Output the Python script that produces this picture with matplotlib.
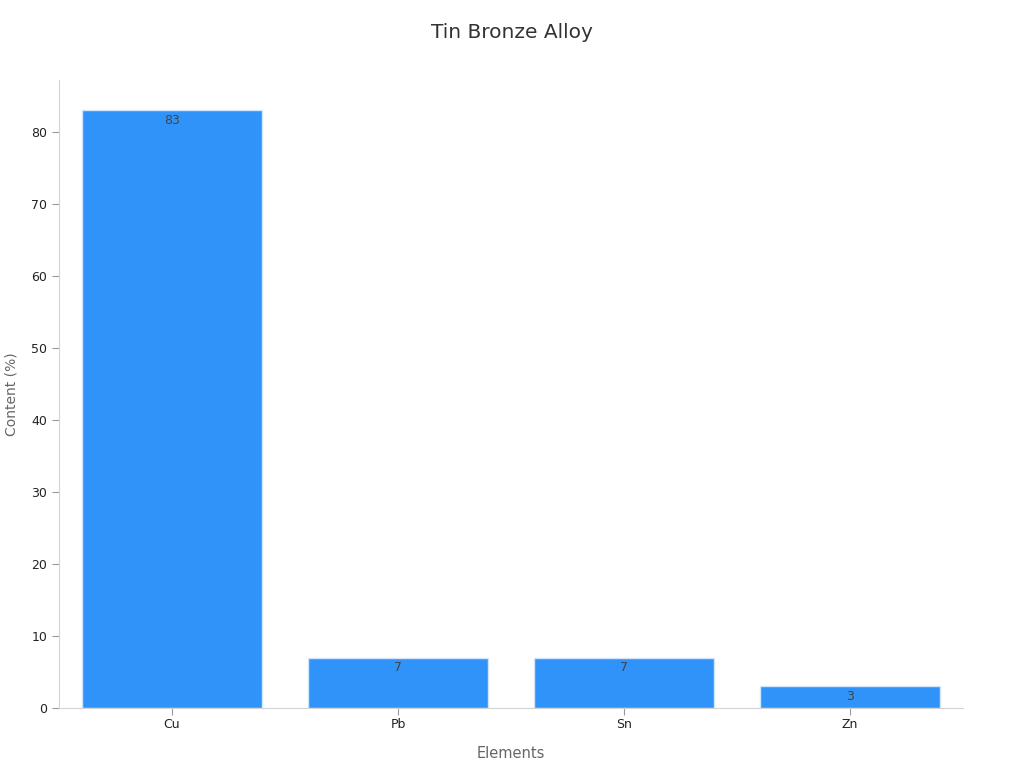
import matplotlib
matplotlib.use("Agg")
import matplotlib.pyplot as plt

elements = ["Cu", "Pb", "Sn", "Zn"]
content = [83, 7, 7, 3]

plt.rcParams["font.family"] = ["DejaVu Sans"]

fig = plt.figure(figsize=(10.24, 7.68), dpi=100)
ax = fig.add_axes([0.0576, 0.0781, 0.8828, 0.8177])

bars = ax.bar(range(len(elements)), content, width=0.8, color="#2f93fa",
              edgecolor="#cfe6fd", linewidth=1)
ax.bar_label(bars, labels=[str(v) for v in content], padding=-12,
             fontsize=9, color="#444444")

ax.set_xticks(range(len(elements)))
ax.set_xticklabels(elements)
ax.set_xlim(-0.5, len(elements) - 0.5)
ax.set_ylim(0, max(content) * 1.05)
ax.set_yticks(range(0, 81, 10))

for side in ("top", "right"):
    ax.spines[side].set_visible(False)
for side in ("left", "bottom"):
    ax.spines[side].set_color("#d3d3d3")
ax.tick_params(labelsize=9, colors="#999999", labelcolor="#222222", length=5)
ax.tick_params(axis="x", pad=2)

ax.set_xlabel("Elements", fontsize=10.5, color="#666666", labelpad=11)
ax.set_ylabel("Content (%)", fontsize=10, color="#666666", labelpad=9)
fig.suptitle("Tin Bronze Alloy", fontsize=14.5, color="#333333", y=0.97)

fig.savefig("out.png", dpi=100, facecolor="white")
